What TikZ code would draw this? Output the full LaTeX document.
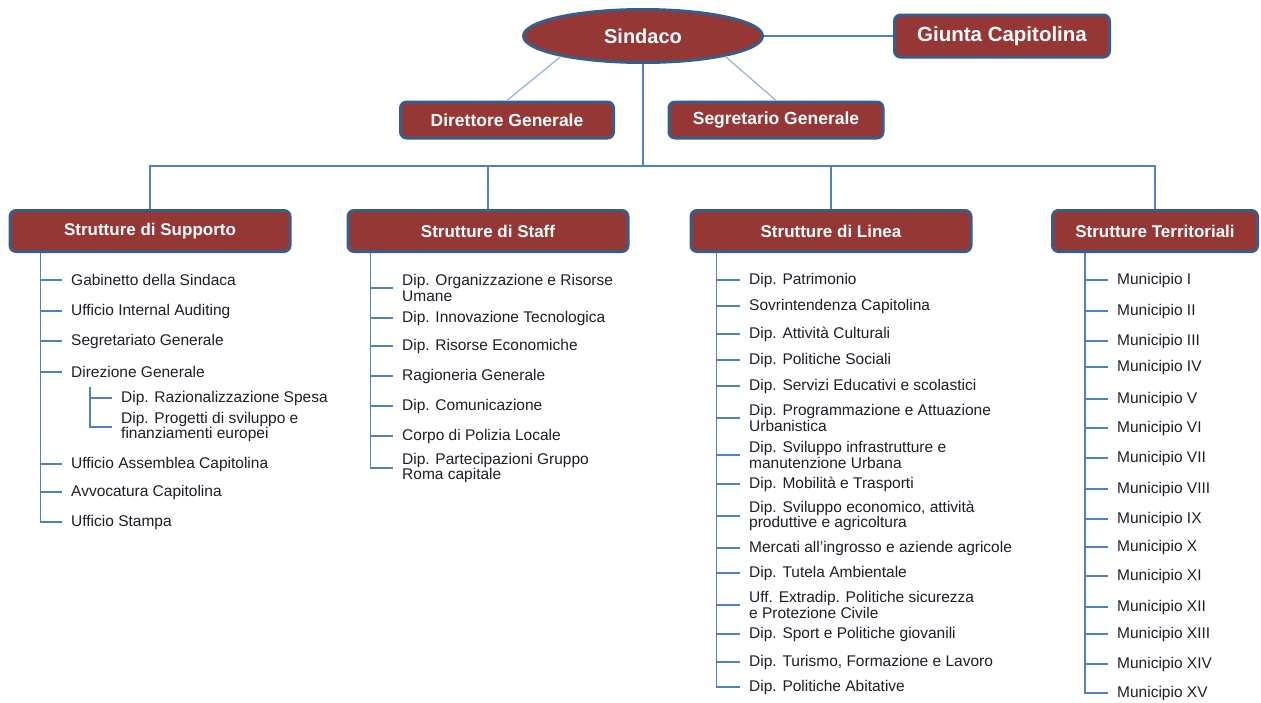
\documentclass[tikz,border=0pt]{standalone}
\usepackage{fontspec}
\setmainfont{Liberation Sans}
\usetikzlibrary{positioning,shapes.geometric}
\definecolor{wine}{RGB}{149,55,53}
\definecolor{steel}{RGB}{56,93,138}
\definecolor{linkblue}{RGB}{79,129,189}
\definecolor{paleblue}{RGB}{141,180,226}
\definecolor{ink}{RGB}{30,30,40}

\begin{document}
\begin{tikzpicture}[
  x=1pt, y=-1pt,
  head/.style={ellipse, draw=steel, line width=3pt, fill=wine, text=white, font=\bfseries\fontsize{20}{22}\selectfont, minimum width=239pt, minimum height=53pt},
  box/.style={draw=steel, rounded corners=6pt, line width=3pt, fill=wine, text=white, font=\bfseries\fontsize{17}{19}\selectfont, minimum height=41pt, minimum width=280pt},
  smallbox/.style={box, minimum height=36pt, minimum width=213pt, font=\bfseries\fontsize{17.5}{19}\selectfont},
  item/.style={anchor=west, inner xsep=9pt, inner ysep=1pt, align=left, text=ink, font=\fontsize{15.5}{15.5}\selectfont},
  link/.style={draw=linkblue, line width=1.2pt},
  diag/.style={draw=paleblue, line width=1.2pt}
]
\useasboundingbox (0,0) rectangle (1261,702);

% top of the chart
\node[head] (sind) at (643,36) {Sindaco};
\node[box, minimum width=215pt, minimum height=42pt, font=\bfseries\fontsize{20.5}{22}\selectfont] (giunta) at (1002,36) {Giunta Capitolina};
\node[smallbox] (dirGen) at (507,120) {Direttore Generale};
\node[smallbox, minimum width=214pt] (segGen) at (776,120) {Segretario Generale};

\draw[link] (sind) -- (giunta);
\draw[diag] (sind.-166) -- (dirGen.north);
\draw[diag] (sind.-14) -- (segGen.north);

% structures
\node[box] (sup) at (150,231) {Strutture di Supporto};
\node[box] (staff) at (488,231) {Strutture di Staff};
\node[box] (linea) at (831,231) {Strutture di Linea};
\node[box, minimum width=205pt] (terr) at (1155,231) {Strutture Territoriali};

\coordinate (bus) at (643,166);
\draw[link] (sind.south) -- (bus);
\draw[link] (sup.north) |- (bus) -| (terr.north);
\draw[link] (staff.north) -- (staff.north |- bus);
\draw[link] (linea.north) -- (linea.north |- bus);

% Strutture di Supporto
\node[item] (gab) at (62,280) {Gabinetto della Sindaca};
\node[item] (audit) at (62,311) {Ufficio Internal Auditing};
\node[item] (segr) at (62,341) {Segretariato Generale};
\node[item] (dirG) at (62,372) {Direzione Generale};
\node[item] (razio) at (112,398) {Dip. Razionalizzazione Spesa};
\node[item] (progE) at (112,427) {Dip. Progetti di sviluppo e\\finanziamenti europei};
\node[item] (assem) at (62,464) {Ufficio Assemblea Capitolina};
\node[item] (avvoc) at (62,492) {Avvocatura Capitolina};
\node[item] (stampa) at (62,522) {Ufficio Stampa};

\coordinate (supSpine) at ([xshift=32pt]sup.south west);
\draw[link] (supSpine) -- (supSpine |- stampa.west) -- (stampa.west);
\draw[link] (supSpine |- gab.west) -- (gab.west);
\draw[link] (supSpine |- audit.west) -- (audit.west);
\draw[link] (supSpine |- segr.west) -- (segr.west);
\draw[link] (supSpine |- dirG.west) -- (dirG.west);
\draw[link] (supSpine |- assem.west) -- (assem.west);
\draw[link] (supSpine |- avvoc.west) -- (avvoc.west);
\coordinate (dirSpine) at (90,387);
\draw[link] (dirSpine) -- (dirSpine |- progE.west) -- (progE.west);
\draw[link] (dirSpine |- razio.west) -- (razio.west);

% Strutture di Staff
\node[item] (orgRis) at (393,288) {Dip. Organizzazione e Risorse\\Umane};
\node[item] (innov) at (393,318) {Dip. Innovazione Tecnologica};
\node[item] (risEc) at (393,346) {Dip. Risorse Economiche};
\node[item] (ragion) at (393,376) {Ragioneria Generale};
\node[item] (comun) at (393,406) {Dip. Comunicazione};
\node[item] (polizia) at (393,436) {Corpo di Polizia Locale};
\node[item] (partec) at (393,468) {Dip. Partecipazioni Gruppo\\Roma capitale};

\coordinate (staffSpine) at ([xshift=24pt]staff.south west);
\draw[link] (staffSpine) -- (staffSpine |- partec.west) -- (partec.west);
\draw[link] (staffSpine |- orgRis.west) -- (orgRis.west);
\draw[link] (staffSpine |- innov.west) -- (innov.west);
\draw[link] (staffSpine |- risEc.west) -- (risEc.west);
\draw[link] (staffSpine |- ragion.west) -- (ragion.west);
\draw[link] (staffSpine |- comun.west) -- (comun.west);
\draw[link] (staffSpine |- polizia.west) -- (polizia.west);

% Strutture di Linea
\node[item] (patrim) at (740,280) {Dip. Patrimonio};
\node[item] (sovr) at (740,306) {Sovrintendenza Capitolina};
\node[item] (cult) at (740,334) {Dip. Attività Culturali};
\node[item] (sociali) at (740,360) {Dip. Politiche Sociali};
\node[item] (educ) at (740,386) {Dip. Servizi Educativi e scolastici};
\node[item] (progr) at (740,418) {Dip. Programmazione e Attuazione\\Urbanistica};
\node[item] (infra) at (740,455) {Dip. Sviluppo infrastrutture e\\manutenzione Urbana};
\node[item] (mobil) at (740,484) {Dip. Mobilità e Trasporti};
\node[item] (econ) at (740,516) {Dip. Sviluppo economico, attività\\produttive e agricoltura};
\node[item] (mercati) at (740,548) {Mercati all'ingrosso e aziende agricole};
\node[item] (tutela) at (740,573) {Dip. Tutela Ambientale};
\node[item] (sicur) at (740,605) {Uff. Extradip. Politiche sicurezza\\e Protezione Civile};
\node[item] (sport) at (740,634) {Dip. Sport e Politiche giovanili};
\node[item] (turismo) at (740,662) {Dip. Turismo, Formazione e Lavoro};
\node[item] (abit) at (740,687) {Dip. Politiche Abitative};

\coordinate (lineaSpine) at ([xshift=27pt]linea.south west);
\draw[link] (lineaSpine) -- (lineaSpine |- abit.west) -- (abit.west);
\draw[link] (lineaSpine |- patrim.west) -- (patrim.west);
\draw[link] (lineaSpine |- sovr.west) -- (sovr.west);
\draw[link] (lineaSpine |- cult.west) -- (cult.west);
\draw[link] (lineaSpine |- sociali.west) -- (sociali.west);
\draw[link] (lineaSpine |- educ.west) -- (educ.west);
\draw[link] (lineaSpine |- progr.west) -- (progr.west);
\draw[link] (lineaSpine |- infra.west) -- (infra.west);
\draw[link] (lineaSpine |- mobil.west) -- (mobil.west);
\draw[link] (lineaSpine |- econ.west) -- (econ.west);
\draw[link] (lineaSpine |- mercati.west) -- (mercati.west);
\draw[link] (lineaSpine |- tutela.west) -- (tutela.west);
\draw[link] (lineaSpine |- sicur.west) -- (sicur.west);
\draw[link] (lineaSpine |- sport.west) -- (sport.west);
\draw[link] (lineaSpine |- turismo.west) -- (turismo.west);

% Strutture Territoriali
\node[item] (mun1) at (1108,280) {Municipio I};
\node[item] (mun2) at (1108,311) {Municipio II};
\node[item] (mun3) at (1108,341) {Municipio III};
\node[item] (mun4) at (1108,367) {Municipio IV};
\node[item] (mun5) at (1108,399) {Municipio V};
\node[item] (mun6) at (1108,428) {Municipio VI};
\node[item] (mun7) at (1108,458) {Municipio VII};
\node[item] (mun8) at (1108,489) {Municipio VIII};
\node[item] (mun9) at (1108,519) {Municipio IX};
\node[item] (mun10) at (1108,547) {Municipio X};
\node[item] (mun11) at (1108,576) {Municipio XI};
\node[item] (mun12) at (1108,607) {Municipio XII};
\node[item] (mun13) at (1108,634) {Municipio XIII};
\node[item] (mun14) at (1108,664) {Municipio XIV};
\node[item] (mun15) at (1108,693) {Municipio XV};

\coordinate (terrSpine) at ([xshift=34pt]terr.south west);
\draw[link] (terrSpine) -- (terrSpine |- mun15.west) -- (mun15.west);
\draw[link] (terrSpine |- mun1.west) -- (mun1.west);
\draw[link] (terrSpine |- mun2.west) -- (mun2.west);
\draw[link] (terrSpine |- mun3.west) -- (mun3.west);
\draw[link] (terrSpine |- mun4.west) -- (mun4.west);
\draw[link] (terrSpine |- mun5.west) -- (mun5.west);
\draw[link] (terrSpine |- mun6.west) -- (mun6.west);
\draw[link] (terrSpine |- mun7.west) -- (mun7.west);
\draw[link] (terrSpine |- mun8.west) -- (mun8.west);
\draw[link] (terrSpine |- mun9.west) -- (mun9.west);
\draw[link] (terrSpine |- mun10.west) -- (mun10.west);
\draw[link] (terrSpine |- mun11.west) -- (mun11.west);
\draw[link] (terrSpine |- mun12.west) -- (mun12.west);
\draw[link] (terrSpine |- mun13.west) -- (mun13.west);
\draw[link] (terrSpine |- mun14.west) -- (mun14.west);
\end{tikzpicture}
\end{document}
